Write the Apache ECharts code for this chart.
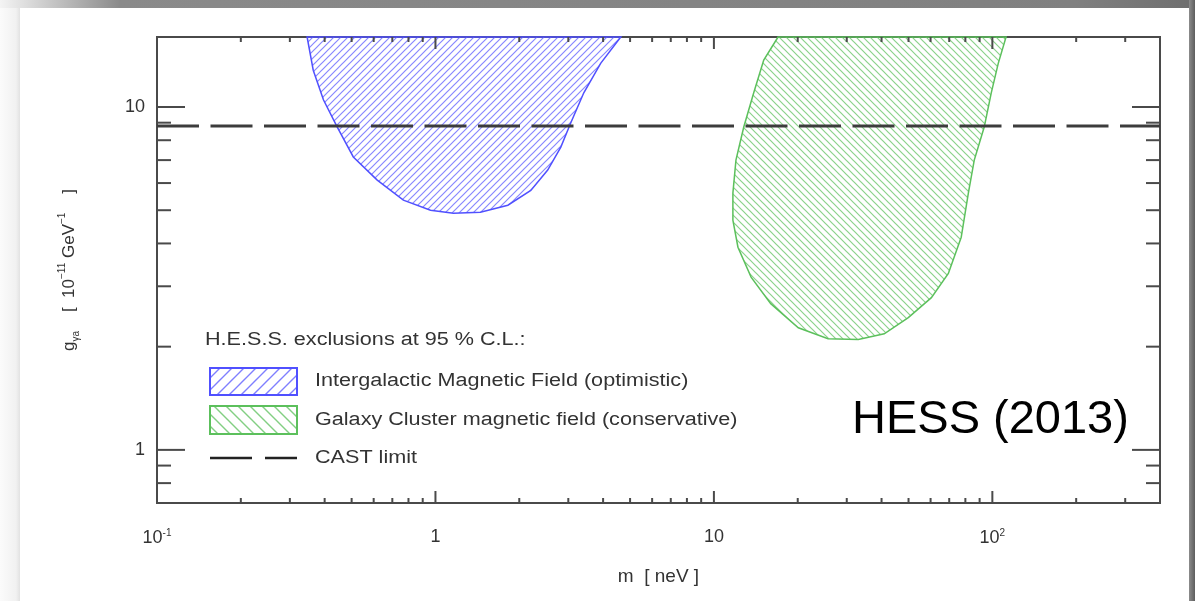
<!DOCTYPE html>
<html>
<head>
<meta charset="utf-8">
<script src="https://cdn.jsdelivr.net/npm/echarts@6/dist/echarts.min.js"></script>
<style>
html,body{margin:0;padding:0;background:#fff;}
#chart{width:1195px;height:601px;}
</style>
</head>
<body>
<div id="chart"></div>
<script>
// ---- data ----
const xRange = [0.1, 400];          // m [neV]
const yRange = [0.7, 16];           // g [1e-11 GeV^-1]
const xTickLabels = {'-1': '{b|10}{s|-1}', '0': '1', '1': '10', '2': '{b|10}{s|2}'};
const yTickLabels = {'0': '1', '1': '10'};
const xMajorTicks = [0.1, 1, 10, 100];
const xMinorTicks = [0.2,0.3,0.4,0.5,0.6,0.7,0.8,0.9, 2,3,4,5,6,7,8,9, 20,30,40,50,60,70,80,90, 200,300];
const yMajorTicks = [1, 10];
const yMinorTicks = [0.8,0.9, 2,3,4,5,6,7,8,9];

// Intergalactic Magnetic Field (optimistic) exclusion contour
const igmfMass     = [0.346,0.364,0.396,0.444,0.507,0.618,0.767,0.96,1.16,1.45,1.82,2.20,2.53,2.82,3.06,3.41,3.92,4.63];
const igmfCoupling = [16,12.8,10.5,8.74,7.15,6.12,5.35,5.0,4.90,4.93,5.17,5.71,6.55,7.64,8.98,11.0,13.4,16];
// Galaxy Cluster magnetic field (conservative) exclusion contour
const gcmfMass     = [17.0,15.1,13.9,12.8,12.0,11.7,11.7,12.2,13.6,16.0,20.1,25.7,33.0,40.9,49.9,60.4,69.5,77.3,82.0,86.1,93.5,99.1,105,112];
const gcmfCoupling = [16,13.7,11.0,8.74,7.0,5.61,4.68,3.90,3.19,2.67,2.27,2.11,2.10,2.18,2.43,2.78,3.27,4.17,5.61,7.0,8.74,11.0,13.4,16];
// CAST limit
const castLimit = 8.8;

const legendTitle = 'H.E.S.S. exclusions at 95 % C.L.:';
const legendNames = ['Intergalactic Magnetic Field (optimistic)', 'Galaxy Cluster magnetic field (conservative)', 'CAST limit'];
const tagText = 'HESS (2013)';

// ---- hatch patterns ----
function hatch(size, color, width, forward) {
  const c = document.createElement('canvas');
  c.width = size; c.height = size;
  const g = c.getContext('2d');
  g.strokeStyle = color; g.lineWidth = width; g.lineCap = 'square';
  g.beginPath();
  if (forward) { // "/"
    g.moveTo(-1, size + 1); g.lineTo(size + 1, -1);
    g.moveTo(-1, 1); g.lineTo(1, -1);
    g.moveTo(size - 1, size + 1); g.lineTo(size + 1, size - 1);
  } else {       // "\"
    g.moveTo(-1, -1); g.lineTo(size + 1, size + 1);
    g.moveTo(size - 1, -1); g.lineTo(size + 1, 1);
    g.moveTo(-1, size - 1); g.lineTo(1, size + 1);
  }
  g.stroke();
  return {image: c, repeat: 'repeat'};
}
const blueHatch  = hatch(7, 'rgba(95,95,255,0.75)', 1.2, true);
const greenHatch = hatch(7, 'rgba(100,195,100,0.75)', 1.2, false);
const blueHatchL  = hatch(12, 'rgba(95,95,255,0.8)', 1.4, true);
const greenHatchL = hatch(12, 'rgba(100,195,100,0.8)', 1.4, false);

const blueEdge = '#5050ff', greenEdge = '#5cc05c', axisColor = '#4a4a4a', textColor = '#333';

function contourSeries(name, xs, ys, fill, stroke) {
  return {
    type: 'custom', name: name, clip: false, z: 2,
    data: xs.map((x, i) => [x, ys[i]]),
    renderItem: function (params, api) {
      if (params.dataIndex !== 0) return null;
      const pts = xs.map((x, i) => api.coord([x, ys[i]]));
      return {type: 'polygon', shape: {points: pts}, style: {fill: fill, stroke: stroke, lineWidth: 1.5}};
    }
  };
}

function tickSeries(values, len, isX) {
  return {
    type: 'custom', clip: false, z: 5, silent: true,
    data: values.map(v => isX ? [v, yRange[0]] : [xRange[0], v]),
    renderItem: function (params, api) {
      const v = api.value(isX ? 0 : 1);
      const st = {stroke: axisColor, lineWidth: 2};
      if (isX) {
        const a = api.coord([v, yRange[0]]), b = api.coord([v, yRange[1]]);
        return {type: 'group', children: [
          {type: 'line', shape: {x1: a[0], y1: a[1], x2: a[0], y2: a[1] - len}, style: st},
          {type: 'line', shape: {x1: b[0], y1: b[1], x2: b[0], y2: b[1] + len}, style: st}
        ]};
      } else {
        const a = api.coord([xRange[0], v]), b = api.coord([xRange[1], v]);
        return {type: 'group', children: [
          {type: 'line', shape: {x1: a[0], y1: a[1], x2: a[0] + len, y2: a[1]}, style: st},
          {type: 'line', shape: {x1: b[0], y1: b[1], x2: b[0] - len, y2: b[1]}, style: st}
        ]};
      }
    }
  };
}

function decadeKey(v) {
  const l = Math.log10(v), r = Math.round(l);
  return Math.abs(l - r) < 1e-6 ? String(r) : null;
}

const font = '"Liberation Sans", Arial, Helvetica, sans-serif';
const chart = echarts.init(document.getElementById('chart'), null, {renderer: 'canvas'});

const option = {
  animation: false,
  backgroundColor: '#ffffff',
  grid: {left: 157, right: 35, top: 37, bottom: 98, show: true, borderColor: axisColor, borderWidth: 2, backgroundColor: 'transparent'},
  xAxis: {
    type: 'log', logBase: 10, min: xRange[0], max: xRange[1],
    name: 'm  [ neV ]', nameLocation: 'middle', nameGap: 64,
    nameTextStyle: {fontFamily: font, fontSize: 19, color: textColor},
    axisLine: {show: false}, axisTick: {show: false}, splitLine: {show: false}, minorTick: {show: false},
    axisLabel: {
      margin: 25, fontFamily: font, fontSize: 18, color: textColor, showMinLabel: true, showMaxLabel: true, hideOverlap: false,
      formatter: function (v) { const k = decadeKey(v); return k !== null && xTickLabels[k] ? xTickLabels[k] : ''; },
      rich: {b: {fontFamily: font, fontSize: 18, color: textColor}, s: {fontFamily: font, fontSize: 10, color: textColor, verticalAlign: 'top', padding: [0, 0, 10, 0]}}
    }
  },
  yAxis: {
    type: 'log', logBase: 10, min: yRange[0], max: yRange[1],
    name: '{t|g}{sub|γa}{t|    [  10}{sup|−11}{t| GeV}{sup|−1}{t|    ]}',
    nameLocation: 'middle', nameRotate: 90, nameGap: 76,
    nameTextStyle: {
      fontFamily: font, fontSize: 17, color: textColor,
      rich: {
        t: {fontFamily: font, fontSize: 17, color: textColor, lineHeight: 24, verticalAlign: 'middle'},
        sub: {fontFamily: font, fontSize: 10, color: textColor, lineHeight: 24, verticalAlign: 'bottom', padding: [7, 0, 0, 0]},
        sup: {fontFamily: font, fontSize: 10, color: textColor, lineHeight: 24, verticalAlign: 'top', padding: [0, 0, 7, 0]}
      }
    },
    axisLine: {show: false}, axisTick: {show: false}, splitLine: {show: false}, minorTick: {show: false},
    axisLabel: {
      margin: 12, fontFamily: font, fontSize: 18, color: textColor, showMinLabel: true, showMaxLabel: true, hideOverlap: false,
      formatter: function (v) { const k = decadeKey(v); return k !== null && yTickLabels[k] ? yTickLabels[k] : ''; }
    }
  },
  series: [
    contourSeries(legendNames[0], igmfMass, igmfCoupling, blueHatch, blueEdge),
    contourSeries(legendNames[1], gcmfMass, gcmfCoupling, greenHatch, greenEdge),
    {
      type: 'line', name: legendNames[2], z: 3, symbol: 'none', silent: true,
      data: [[xRange[0], castLimit], [xRange[1], castLimit]],
      lineStyle: {color: '#3c3c3c', width: 3, type: [42, 11.5]}
    },
    tickSeries(xMajorTicks, 12, true),
    tickSeries(xMinorTicks, 5, true),
    tickSeries(yMajorTicks, 28, false),
    tickSeries(yMinorTicks, 14, false)
  ],
  graphic: [
    // page frame
    {type: 'rect', z: -10, shape: {x: 0, y: 0, width: 20, height: 601},
      style: {fill: new echarts.graphic.LinearGradient(0, 0, 1, 0, [{offset: 0, color: '#fbfbfb'}, {offset: 0.8, color: '#f1f1f1'}, {offset: 1, color: '#e2e2e2'}])}},
    {type: 'rect', z: -9, shape: {x: 0, y: 0, width: 1195, height: 8},
      style: {fill: new echarts.graphic.LinearGradient(0, 0, 1, 0, [{offset: 0, color: '#f4f4f4'}, {offset: 0.1, color: '#8a8a8a'}, {offset: 0.9, color: '#808080'}, {offset: 1, color: '#6e6e6e'}])}},
    {type: 'rect', z: -9, shape: {x: 1189, y: 0, width: 6, height: 601},
      style: {fill: new echarts.graphic.LinearGradient(0, 0, 1, 0, [{offset: 0, color: '#8c8c8c'}, {offset: 1, color: '#5e5e5e'}])}},
    // legend
    {type: 'text', z: 10, x: 205, y: 340, scaleX: 1.2, style: {text: legendTitle, font: '18px ' + font, fill: textColor, verticalAlign: 'middle'}},
    {type: 'rect', z: 10, shape: {x: 210, y: 368, width: 87, height: 27}, style: {fill: blueHatchL, stroke: blueEdge, lineWidth: 2}},
    {type: 'text', z: 10, x: 315, y: 381, scaleX: 1.2, style: {text: legendNames[0], font: '18px ' + font, fill: textColor, verticalAlign: 'middle'}},
    {type: 'rect', z: 10, shape: {x: 210, y: 406, width: 87, height: 28}, style: {fill: greenHatchL, stroke: greenEdge, lineWidth: 2}},
    {type: 'text', z: 10, x: 315, y: 420, scaleX: 1.2, style: {text: legendNames[1], font: '18px ' + font, fill: textColor, verticalAlign: 'middle'}},
    {type: 'line', z: 10, shape: {x1: 210, y1: 458, x2: 297, y2: 458}, style: {stroke: '#222', lineWidth: 2.5, lineDash: [42, 13]}},
    {type: 'text', z: 10, x: 315, y: 458, scaleX: 1.2, style: {text: legendNames[2], font: '18px ' + font, fill: textColor, verticalAlign: 'middle'}},
    // tag
    {type: 'text', z: 10, x: 852, y: 420, style: {text: tagText, font: '47px ' + font, fill: '#000', verticalAlign: 'middle'}}
  ]
};
chart.setOption(option);
</script>
</body>
</html>
